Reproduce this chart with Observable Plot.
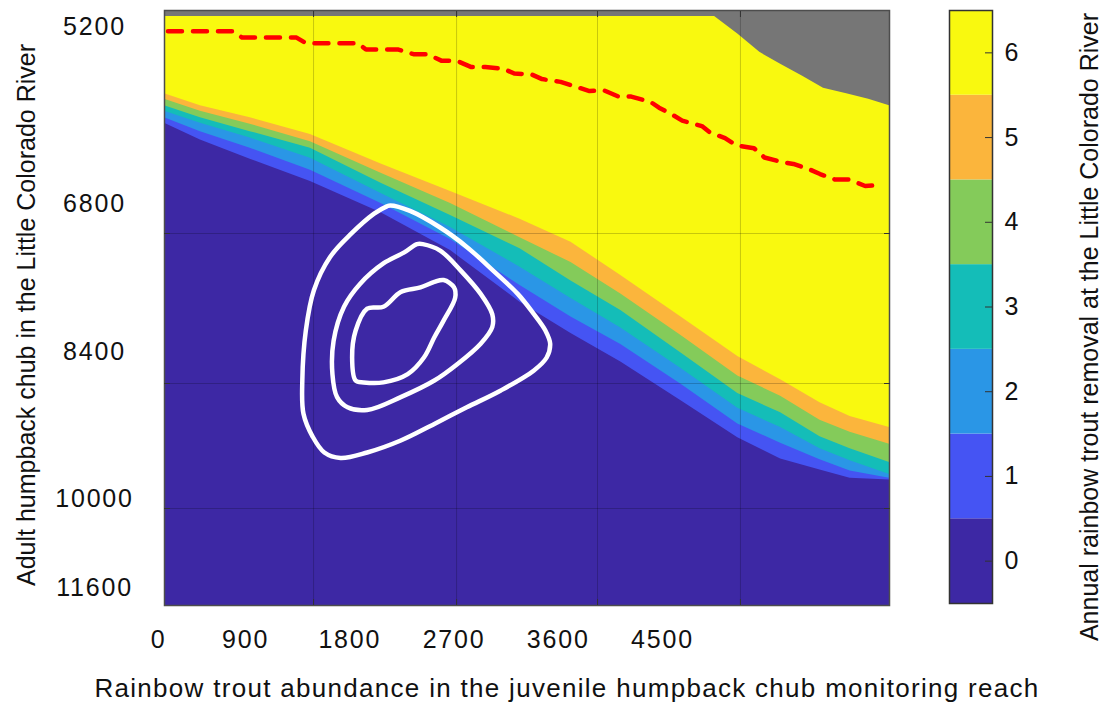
<!DOCTYPE html>
<html>
<head>
<meta charset="utf-8">
<script src="https://cdn.jsdelivr.net/npm/d3@7"></script>
<script src="https://cdn.jsdelivr.net/npm/@observablehq/plot@0.6"></script>
<style>
  html, body { margin: 0; padding: 0; background: #fff; }
  #wrap { position: relative; width: 1102px; height: 702px; overflow: hidden; font-family: 'Liberation Sans', Arial, sans-serif; color: #111; }
  #wrap svg { position: absolute; top: 0; }
  #main text { letter-spacing: 1.8px; }
  .title { position: absolute; white-space: nowrap; font-size: 25px; line-height: 25px; }
</style>
</head>
<body>
<div id="wrap"></div>
<script>
// ---------- data ----------
const levels = [0, 1, 2, 3, 4, 5, 6];
const levelColors = ["#3d28a4", "#4554f3", "#2a96e6", "#14bdb8", "#84cb5a", "#fbb53c", "#f9f90f"];
const noDataColor = "#767676";

const xTitle = "Rainbow trout abundance in the juvenile humpback chub monitoring reach";
const yTitle = "Adult humpback chub in the Little Colorado River";
const colorTitle = "Annual rainbow trout removal at the Little Colorado River";

// axis extents (trout abundance, adult chub)
const troutDomain = [200, 6460];
const chubDomain = [4696, 11150];

// tick labels and where they sit on each axis
const xTickText = ["0", "900", "1800", "2700", "3600", "4500"];
const xTickPos = [150, 900, 1800, 2700, 3600, 4500];
const yTickText = ["5200", "6800", "8400", "10000", "11600"];
const yTickPos = [4880, 6800, 8400, 10000, 10955];
// grid lines
const xGrid = [1487, 2722, 3939, 5173];
const yGrid = [7115, 8742, 10098];

// top of the modelled surface (grey = no value above it)
const yellowTrout = [200, 4950, 5150, 5340, 5520, 5710, 5890, 6090, 6280, 6460];
const yellowTop   = [4760, 4760, 4950, 5150, 5280, 5410, 5540, 5600, 5660, 5730];

// level boundaries (chub value where the next lower level begins), by trout column
const colTrout  = [200, 510, 940, 1460, 2070, 2670, 3270, 3710, 4140, 4660, 5150, 5520, 5860, 6120, 6460];
const edge6to5  = [5600, 5730, 5860, 6040, 6360, 6660, 6960, 7210, 7570, 8020, 8450, 8700, 8950, 9100, 9220];
const edge5to4  = [5660, 5790, 5930, 6120, 6460, 6790, 7160, 7430, 7770, 8220, 8660, 8880, 9140, 9270, 9400];
const edge4to3  = [5730, 5860, 6010, 6190, 6570, 6920, 7280, 7630, 7950, 8410, 8850, 9060, 9320, 9450, 9600];
const edge3to2  = [5790, 5920, 6080, 6300, 6680, 7050, 7480, 7820, 8140, 8580, 9010, 9220, 9450, 9580, 9730];
const edge2to1  = [5860, 6010, 6190, 6430, 6790, 7180, 7680, 8020, 8320, 8750, 9180, 9390, 9570, 9690, 9770];
const edge1to0  = [5920, 6100, 6310, 6550, 6890, 7300, 7860, 8200, 8510, 8930, 9330, 9560, 9680, 9770, 9790];

// red dashed line
const redTrout = [230, 790, 870, 1340, 1420, 1870, 1940, 2220, 2350, 2470, 2590, 2720, 2850, 2970, 3130, 3220, 3370, 3460, 3620, 3720, 3870, 3990, 4120, 4230, 4400, 4470, 4590, 4670, 4840, 4910, 5040, 5140, 5290, 5380, 5530, 5630, 5770, 5860, 5990, 6110, 6250, 6370];
const redChub  = [4920, 4920, 4990, 4990, 5050, 5050, 5120, 5120, 5170, 5170, 5240, 5240, 5310, 5310, 5330, 5380, 5390, 5440, 5470, 5510, 5570, 5560, 5630, 5630, 5690, 5750, 5830, 5890, 5950, 6020, 6080, 6160, 6190, 6290, 6340, 6360, 6420, 6470, 6530, 6530, 6600, 6590];

// white contours (closed rings)
const outerTrout = [2150, 2320, 2580, 2810, 3040, 3250, 3390, 3490, 3530, 3500, 3390, 3100, 2810, 2530, 2240, 1950, 1720, 1580, 1480, 1400, 1390, 1420, 1490, 1630, 1810, 2010, 2120];
const outerChub  = [6810, 6870, 7050, 7260, 7520, 7770, 7990, 8170, 8310, 8460, 8600, 8820, 9000, 9180, 9360, 9490, 9550, 9490, 9320, 9070, 8710, 8170, 7730, 7370, 7120, 6900, 6820];
const middleTrout = [2430, 2580, 2760, 2930, 3030, 3030, 2930, 2730, 2530, 2240, 1950, 1780, 1690, 1650, 1660, 1750, 1890, 2090, 2270, 2380];
const middleChub  = [7230, 7300, 7520, 7770, 7990, 8130, 8310, 8530, 8710, 8890, 9030, 9000, 8890, 8640, 8280, 7910, 7660, 7440, 7320, 7230];
const innerTrout = [2610, 2700, 2710, 2610, 2530, 2440, 2300, 2090, 1920, 1850, 1820, 1850, 1950, 2090, 2240, 2410, 2530];
const innerChub  = [7620, 7700, 7810, 8060, 8240, 8460, 8640, 8730, 8730, 8710, 8460, 8170, 7930, 7910, 7750, 7700, 7640];

// ---------- tables built from the arrays ----------
const heat = [];
yellowTrout.forEach((t, i) => heat.push({level: 6, trout: t, top: yellowTop[i]}));
[[5, edge6to5], [4, edge5to4], [3, edge4to3], [2, edge3to2], [1, edge2to1], [0, edge1to0]]
  .forEach(([lv, arr]) => colTrout.forEach((t, i) => heat.push({level: lv, trout: t, top: arr[i]})));

const red = redTrout.map((t, i) => ({trout: t, chub: redChub[i]}));
const contours = [];
[["outer", outerTrout, outerChub], ["middle", middleTrout, middleChub], ["inner", innerTrout, innerChub]]
  .forEach(([ring, xs, ys]) => xs.forEach((t, i) => contours.push({ring, trout: t, chub: ys[i]})));

const xLabel = new Map(xTickPos.map((p, i) => [p, xTickText[i]]));
const yLabel = new Map(yTickPos.map((p, i) => [p, yTickText[i]]));

const font = "'Liberation Sans', Arial, sans-serif";

const main = Plot.plot({
  width: 930, height: 702,
  marginLeft: 164, marginRight: 41, marginTop: 10, marginBottom: 97,
  style: {fontFamily: font, fontSize: "25px", color: "#111", background: "transparent", overflow: "visible"},
  x: {domain: troutDomain, label: null},
  y: {domain: chubDomain, reverse: true, label: null},
  color: {type: "ordinal", domain: levels, range: levelColors},
  marks: [
    Plot.frame({fill: noDataColor}),
    Plot.areaY(heat, {x: "trout", y1: "top", y2: () => chubDomain[1], z: "level", fill: "level"}),
    Plot.ruleX(xGrid, {stroke: "#000", strokeOpacity: 0.2, strokeWidth: 1}),
    Plot.ruleY(yGrid, {stroke: "#000", strokeOpacity: 0.2, strokeWidth: 1}),
    Plot.line(red, {x: "trout", y: "chub", stroke: "#ff0000", strokeWidth: 4.5, strokeDasharray: "14,11"}),
    Plot.line(contours, {x: "trout", y: "chub", z: "ring", stroke: "white", strokeWidth: 4.5, curve: "catmull-rom-closed"}),
    Plot.frame({stroke: "#4d4d4d", strokeWidth: 1.5}),
    Plot.axisX({ticks: xGrid, anchor: "bottom", tickSize: -6, tickFormat: () => "", stroke: "#333", label: null}),
    Plot.axisX({ticks: xGrid, anchor: "top", tickSize: -6, tickFormat: () => "", stroke: "#333", label: null}),
    Plot.axisY({ticks: yGrid, anchor: "left", tickSize: -6, tickFormat: () => "", stroke: "#333", label: null}),
    Plot.axisY({ticks: yGrid, anchor: "right", tickSize: -6, tickFormat: () => "", stroke: "#333", label: null}),
    Plot.axisX({ticks: xTickPos, anchor: "bottom", tickSize: 0, tickPadding: 25, tickFormat: d => xLabel.get(d), fill: "#111", label: null}),
    Plot.axisY({ticks: yTickPos, anchor: "left", tickSize: 0, tickPadding: 70, textAnchor: "middle", tickFormat: d => yLabel.get(d), fill: "#111", label: null})
  ]
});
main.id = "main";
main.style.left = "0px";

const bar = Plot.plot({
  width: 172, height: 702,
  marginLeft: 19, marginRight: 110, marginTop: 10, marginBottom: 99,
  style: {fontFamily: font, fontSize: "25px", color: "#111", background: "transparent", overflow: "visible"},
  x: {domain: [0, 1], axis: null},
  y: {type: "band", domain: levels.slice().reverse(), padding: 0, round: false, label: null},
  color: {type: "ordinal", domain: levels, range: levelColors},
  marks: [
    Plot.barX(levels, {x1: 0, x2: 1, y: d => d, fill: d => d}),
    Plot.frame({stroke: "#333", strokeWidth: 1.5}),
    Plot.axisY({anchor: "right", tickSize: -8, tickPadding: 20, fill: "#111", stroke: "#333", label: null})
  ]
});
bar.style.left = "930px";

const wrap = document.getElementById("wrap");
wrap.appendChild(main);
wrap.appendChild(bar);

function addTitle(text, css) {
  const d = document.createElement("div");
  d.className = "title";
  d.textContent = text;
  Object.assign(d.style, css);
  wrap.appendChild(d);
}
addTitle(xTitle, {left: "567px", top: "675px", fontSize: "26px", lineHeight: "26px", letterSpacing: "1.3px", transform: "translateX(-50%)"});
addTitle(yTitle, {left: "0px", top: "0px", transformOrigin: "0 0", transform: "translate(14px, 315px) rotate(-90deg) translateX(-50%)"});
addTitle(colorTitle, {left: "0px", top: "0px", transformOrigin: "0 0", transform: "translate(1077px, 327px) rotate(-90deg) translateX(-50%)"});
</script>
</body>
</html>
